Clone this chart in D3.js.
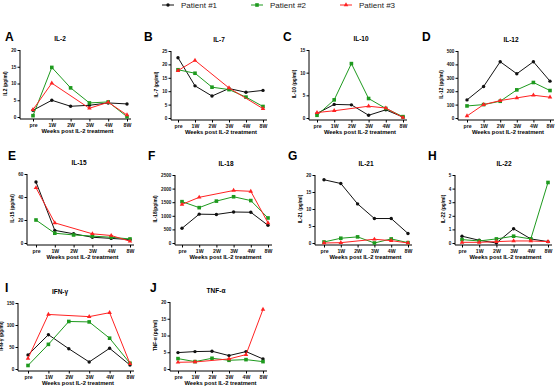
<!DOCTYPE html>
<html><head><meta charset="utf-8">
<script src="https://cdn.jsdelivr.net/npm/d3@7"></script>
<style>body{margin:0;background:#fff}svg{display:block;font-family:Arial,"Liberation Sans",sans-serif}</style>
</head><body>
<svg id="c" width="560" height="387"></svg>
<script>
const weeks = ["pre","1W","2W","3W","4W","8W"];
const seriesNames = ["Patient #1","Patient #2","Patient #3"];
const panelLetters = ["A","B","C","D","E","F","G","H","I","J"];
const panelTitles = ["IL-2","IL-7","IL-10","IL-12","IL-15","IL-18","IL-21","IL-22","IFN-\u03b3","TNF-\u03b1"];
const yLabels = ["IL2 (pg/ml)","IL-7 (pg/ml)","IL-10 (pg/ml)","IL-12 (pg/ml)","IL-15 (pg/ml)","IL-18(pg/ml)","IL-21 (pg/ml)","IL-22 (pg/ml)","IFN-\u03b3 (pg/ml)","TNF-\u03b1 (pg/ml)"];
const yMax = [20,25,15,500,60,2500,20,5,150,20];
const yStep = [5,5,5,100,20,500,5,1,50,5];
// values per panel: [patient1, patient2, patient3]
const il2   = [[2,5,3.2,3.5,4.2,3.9],[0.4,14.8,8.7,4.2,4.5,0.1],[2.2,10.1,null,2.6,4.4,0.6]];
const il7   = [[22.5,12,8.2,11,9.6,10.3],[18,16.7,11.5,10.6,7.8,4.3],[17.7,21.5,null,11.2,null,3.5]];
const il10  = [[1,3,2.9,0.6,1.8,0.2],[0.6,4,12,4.3,2.1,0.3],[1.2,1.6,null,2.6,2.2,0.1]];
const il12  = [[135,235,420,330,420,275],[90,100,125,210,265,205],[15,100,130,150,170,155]];
const il15  = [[53,11,8,5,4,3],[20,8.5,7,6,5,3.5],[48,17.5,null,8,6.5,1.5]];
const il18  = [[540,1060,1050,1140,1130,650],[1520,1300,1540,1700,1560,920],[1420,1680,null,1930,1900,740]];
const il21  = [[18.6,17.5,11.5,7.2,7.2,2.8],[0.3,1.4,1.8,0,1.2,0.1],[0,0.1,null,1.1,0.7,0]];
const il22  = [[0.5,0.2,0,1.05,0.3,0.1],[0.25,0.15,0.3,0.5,0.3,4.45],[0.05,0.05,0.1,0.15,0.15,0.1]];
const ifng  = [[32,78,46,16,47,9],[8,56,108,107,70,13],[24,124,null,119,128,12]];
const tnfa  = [[4.9,5.2,5.3,4,5.2,3],[3.1,2.2,3.2,2.6,2.8,2.2],[2,2.1,null,3,4.3,17.8]];
const panelData = [il2,il7,il10,il12,il15,il18,il21,il22,ifng,tnfa];

const colors = ["#111111","#1e9a1e","#ff2222"];
// layout: [yAxisX, firstX, lastX, top, bottom, titleX, letterX, letterY]
const layout = [
  [20,33,127,50,117,60,5,41],[171,178,263,51,118,219,144,41],[309,317,403,50,118,361,283,41],[458,467,550,51,118,511,422,41],
  [27,36,130,174,243,79,8,160],[175,182,268,175,243,226,148,160],[315,324,408,175,243,366,288,160],[455,462,548,175,243,504,428,160],
  [18,28,130,303,369,60,5,292],[170,178,263,302,369,216,150,292]
];
const svg = d3.select("#c");

function marker(g, type, x, y, col){
  if(type===0) g.append("circle").attr("cx",x).attr("cy",y).attr("r",1.7).attr("fill",col);
  else if(type===1) g.append("rect").attr("x",x-1.8).attr("y",y-1.8).attr("width",3.6).attr("height",3.6).attr("fill",col);
  else g.append("path").attr("d",d3.symbol(d3.symbolTriangle,9)()).attr("transform",`translate(${x},${y})`).attr("fill",col);
}

panelData.forEach((pd,i)=>{
  const [ax,x0,x1,top,bot,tx,lx,ly] = layout[i];
  const g = svg.append("g");
  const x = d3.scalePoint().domain(weeks).range([x0,x1]);
  const y = d3.scaleLinear().domain([0,yMax[i]]).range([bot,top]);
  const ticks = d3.range(0,yMax[i]+yStep[i]/2,yStep[i]);
  const yAx = g.append("g").attr("transform",`translate(${ax},0)`)
    .call(d3.axisLeft(y).tickValues(ticks).tickSize(2.5).tickPadding(1.2).tickFormat(d3.format("d")));
  const xAx = g.append("g").attr("transform",`translate(0,${bot+2})`)
    .call(d3.axisBottom(x).tickSize(2.5).tickPadding(2));
  [yAx,xAx].forEach(a=>{
    a.select(".domain").attr("stroke","#000").attr("stroke-width",1);
    a.selectAll(".tick line").attr("stroke","#000").attr("stroke-width",1);
    a.selectAll("text").attr("font-weight","bold").attr("fill","#111");
  });
  yAx.selectAll("text").attr("font-size",4.6);
  xAx.selectAll("text").attr("font-size",5.2);
  xAx.select(".domain").attr("d",`M${ax},0H${x1+4}`);
  yAx.select(".domain").attr("d",`M0,${top}V${bot+2}`);
  let tw = 0;
  yAx.selectAll("text").each(function(){ tw = Math.max(tw, this.getBBox().width); });
  // titles
  g.append("text").attr("x",tx).attr("y",top-9).attr("text-anchor","middle")
    .attr("font-size",6.5).attr("font-weight","bold").text(panelTitles[i]);
  g.append("text").attr("x",lx).attr("y",ly).attr("font-size",12).attr("font-weight","bold").text(panelLetters[i]);
  g.append("text").attr("x",(ax+x1)/2+4).attr("y",bot+16).attr("text-anchor","middle")
    .attr("font-size",5.8).attr("font-weight","bold").text("Weeks post IL-2 treatment");
  g.append("text").attr("transform",`translate(${ax-tw-7},${(top+bot)/2}) rotate(-90)`).attr("text-anchor","middle")
    .attr("font-size",4.8).attr("font-weight","bold").text(yLabels[i]);
  // series
  pd.forEach((vals,s)=>{
    const pts = weeks.map((w,k)=>({w,v:vals[k]})).filter(d=>d.v!==null);
    g.append("path").attr("d",d3.line().x(d=>x(d.w)).y(d=>y(d.v))(pts))
      .attr("fill","none").attr("stroke",colors[s]).attr("stroke-width",1);
    pts.forEach(d=>marker(g,s,x(d.w),y(d.v),colors[s]));
  });
});

// legend
const legX = [168,257,346];
seriesNames.forEach((n,s)=>{
  const g = svg.append("g");
  g.append("line").attr("x1",legX[s]-6).attr("x2",legX[s]+6).attr("y1",5).attr("y2",5).attr("stroke",colors[s]).attr("stroke-width",1);
  marker(g,s,legX[s],5,colors[s]);
  g.append("text").attr("x",legX[s]+13).attr("y",8).attr("font-size",8).attr("fill","#222").text(n);
});
</script>
</body></html>
